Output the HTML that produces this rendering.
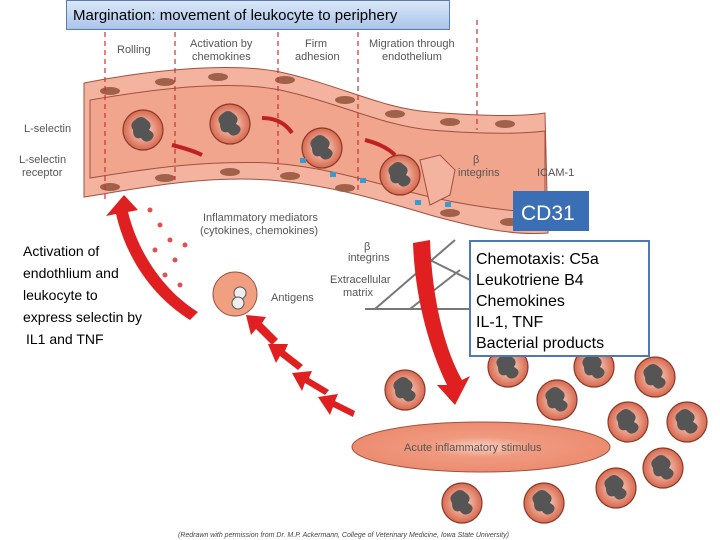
<!DOCTYPE html>
<html><head><meta charset="utf-8"><style>
body{margin:0;width:720px;height:540px;overflow:hidden;background:#fff;font-family:"Liberation Sans",sans-serif}
svg{position:absolute;left:0;top:0}
.t{font-family:"Liberation Sans",sans-serif;fill:#555;font-size:11px}
</style></head><body>
<svg width="720" height="540" viewBox="0 0 720 540">
<defs>
<radialGradient id="cell" cx="50%" cy="50%" r="50%"><stop offset="0" stop-color="#fde0d0"/><stop offset="1" stop-color="#d8684e"/></radialGradient>
<radialGradient id="ell" cx="50%" cy="50%" r="50%"><stop offset="0" stop-color="#fbd0c0"/><stop offset="0.4" stop-color="#f09a80"/><stop offset="1" stop-color="#ec8c70"/></radialGradient>
<linearGradient id="tb" x1="0" y1="0" x2="0" y2="1"><stop offset="0" stop-color="#dbe8f8"/><stop offset="1" stop-color="#a9c4ea"/></linearGradient>
<g id="leu"><circle r="20" fill="url(#cell)" stroke="#8a3a2a" stroke-width="1.2"/><path d="M-8,-10 q6,-6 12,0 q6,4 2,10 q8,4 2,10 q-6,4 -10,-2 q-8,2 -8,-8 q-4,-6 2,-10z" fill="#555"/></g>
</defs>
<!-- vessel -->
<path d="M84,83 C150,70 230,62 280,72 C340,85 380,108 430,112 C480,116 520,117 545,113 L548,233 C510,236 470,226 430,215 C380,200 330,185 270,180 C200,175 130,190 84,197 Z" fill="#f4b39e" stroke="#a05040"/>
<path d="M90,100 C160,88 230,80 280,90 C340,103 380,125 430,130 C480,134 520,134 545,131 L545,213 C520,212 480,208 430,197 C380,185 330,167 270,163 C200,160 140,170 90,178Z" fill="#f0a58c" stroke="#a05040"/>
<g fill="#a0604a"><ellipse cx="110" cy="91" rx="10" ry="4"/><ellipse cx="165" cy="82" rx="10" ry="4"/><ellipse cx="218" cy="77" rx="10" ry="4"/><ellipse cx="285" cy="80" rx="10" ry="4"/><ellipse cx="345" cy="100" rx="10" ry="4"/><ellipse cx="395" cy="114" rx="10" ry="4"/><ellipse cx="450" cy="122" rx="10" ry="4"/><ellipse cx="505" cy="124" rx="10" ry="4"/>
<ellipse cx="110" cy="187" rx="10" ry="4"/><ellipse cx="165" cy="178" rx="10" ry="4"/><ellipse cx="230" cy="172" rx="10" ry="4"/><ellipse cx="290" cy="176" rx="10" ry="4"/><ellipse cx="345" cy="188" rx="10" ry="4"/><ellipse cx="450" cy="213" rx="10" ry="4"/><ellipse cx="510" cy="222" rx="10" ry="4"/></g>
<!-- dashed lines -->
<g stroke="#d03030" stroke-width="1.2" stroke-dasharray="5,4"><line x1="105" y1="32" x2="105" y2="200"/><line x1="175" y1="32" x2="175" y2="180"/><line x1="278" y1="32" x2="278" y2="170"/><line x1="358" y1="32" x2="358" y2="190"/><line x1="477" y1="20" x2="477" y2="130"/></g>
<use href="#leu" x="143" y="130"/><use href="#leu" x="230" y="124"/><use href="#leu" x="322" y="148"/><use href="#leu" x="400" y="175"/>
<path d="M420,160 l20,-5 l15,15 l-5,25 l-20,10z" fill="#f4b39e" stroke="#a05040"/>
<path d="M172,145 q20,5 30,10" stroke="#c02020" stroke-width="4" fill="none"/><path d="M262,118 q20,0 30,15" stroke="#c02020" stroke-width="4" fill="none"/><path d="M365,140 q20,5 30,15" stroke="#c02020" stroke-width="4" fill="none"/>
<g fill="#3a9ad0"><rect x="300" y="158" width="6" height="5"/><rect x="330" y="172" width="6" height="5"/><rect x="360" y="178" width="6" height="5"/><rect x="415" y="200" width="6" height="5"/><rect x="445" y="202" width="6" height="5"/></g>
<text class="t" x="117" y="53">Rolling</text>
<text class="t" x="190" y="47">Activation by</text><text class="t" x="192" y="60">chemokines</text>
<text class="t" x="305" y="47">Firm</text><text class="t" x="295" y="60">adhesion</text>
<text class="t" x="369" y="47">Migration through</text><text class="t" x="382" y="60">endothelium</text>
<text class="t" x="24" y="132">L-selectin</text><text class="t" x="19" y="163">L-selectin</text><text class="t" x="22" y="176">receptor</text>
<text class="t" x="473" y="163">β</text><text class="t" x="458" y="176">integrins</text><text class="t" x="537" y="176">ICAM-1</text>
<text class="t" x="203" y="221">Inflammatory mediators</text><text class="t" x="200" y="234">(cytokines, chemokines)</text>
<text class="t" x="364" y="250">β</text><text class="t" x="348" y="261">integrins</text>
<text class="t" x="330" y="283">Extracellular</text><text class="t" x="343" y="296">matrix</text>
<text class="t" x="271" y="301">Antigens</text>
<!-- left red arrow -->
<path d="M128,212 C140,260 170,295 198,312 L190,320 C158,300 128,265 116,214 L106,216 L124,195 L138,210Z" fill="#e02020"/>
<g fill="#e05050"><circle cx="150" cy="210" r="2.5"/><circle cx="160" cy="225" r="2.5"/><circle cx="170" cy="240" r="2.5"/><circle cx="155" cy="250" r="2.5"/><circle cx="175" cy="260" r="2.5"/><circle cx="165" cy="275" r="2.5"/><circle cx="180" cy="285" r="2.5"/><circle cx="185" cy="245" r="2.5"/></g>
<circle cx="235" cy="294" r="22" fill="#f0a080" stroke="#a05040"/><circle cx="240" cy="293" r="6" fill="#eee" stroke="#555"/><circle cx="238" cy="303" r="6" fill="#eee" stroke="#555"/>
<!-- matrix lines -->
<g stroke="#777" stroke-width="2"><line x1="365" y1="309" x2="470" y2="309"/><line x1="375" y1="309" x2="455" y2="240"/><line x1="410" y1="309" x2="460" y2="270"/><line x1="420" y1="255" x2="470" y2="280"/></g>
<!-- big curved arrow -->
<path d="M413,243 L430,240 C432,300 445,350 462,380 L470,376 L455,405 L437,385 L447,385 C430,350 415,300 413,243Z" fill="#e02020"/>
<!-- small arrows -->
<g fill="#e02020"><path d="M353,417 l-20,-10 l-3,8 l-12,-18 l20,-3 l-3,7 l20,10z"/><path d="M325,395 l-20,-12 l-3,8 l-10,-18 l20,-2 l-3,7 l20,12z"/><path d="M298,370 l-18,-14 l-4,7 l-8,-19 l20,0 l-3,7 l18,14z"/><path d="M272,345 l-16,-16 l-5,6 l-5,-20 l20,2 l-4,6 l16,16z"/></g>
<ellipse cx="481" cy="447" rx="129" ry="25" fill="url(#ell)" stroke="#a05040"/>
<text class="t" x="404" y="451" font-size="11.5">Acute inflammatory stimulus</text>
<use href="#leu" x="405" y="390"/><use href="#leu" x="508" y="367"/><use href="#leu" x="594" y="367"/><use href="#leu" x="655" y="377"/><use href="#leu" x="557" y="400"/><use href="#leu" x="628" y="422"/><use href="#leu" x="687" y="422"/><use href="#leu" x="663" y="468"/><use href="#leu" x="616" y="488"/><use href="#leu" x="462" y="503"/><use href="#leu" x="544" y="503"/>
<text x="178" y="537" font-size="7" font-style="italic" fill="#444" font-family="Liberation Sans">(Redrawn with permission from Dr. M.P. Ackermann, College of Veterinary Medicine, Iowa State University)</text>
<!-- title -->
<rect x="66.5" y="0.5" width="383" height="29" fill="url(#tb)" stroke="#5a7ab0"/>
<text x="73" y="20" font-size="15" fill="#000" font-family="Liberation Sans">Margination: movement of leukocyte to periphery</text>
<!-- CD31 -->
<rect x="513" y="191" width="76" height="40" fill="#3a6fb5"/>
<text x="521" y="220" font-size="21" fill="#fff" font-family="Liberation Sans">CD31</text>
<!-- right box -->
<rect x="470" y="241" width="179" height="115" fill="#fff" stroke="#4f79b0" stroke-width="2"/>
<g font-size="16" fill="#000" font-family="Liberation Sans"><text x="476" y="264">Chemotaxis: C5a</text><text x="476" y="285">Leukotriene B4</text><text x="476" y="306">Chemokines</text><text x="476" y="327">IL-1, TNF</text><text x="476" y="348">Bacterial products</text></g>
<g font-size="14" fill="#000" font-family="Liberation Sans"><text x="23" y="256">Activation of</text><text x="23" y="278">endothlium and</text><text x="23" y="300">leukocyte to</text><text x="23" y="322">express selectin by</text><text x="26" y="344">IL1 and TNF</text></g>
</svg>
</body></html>
